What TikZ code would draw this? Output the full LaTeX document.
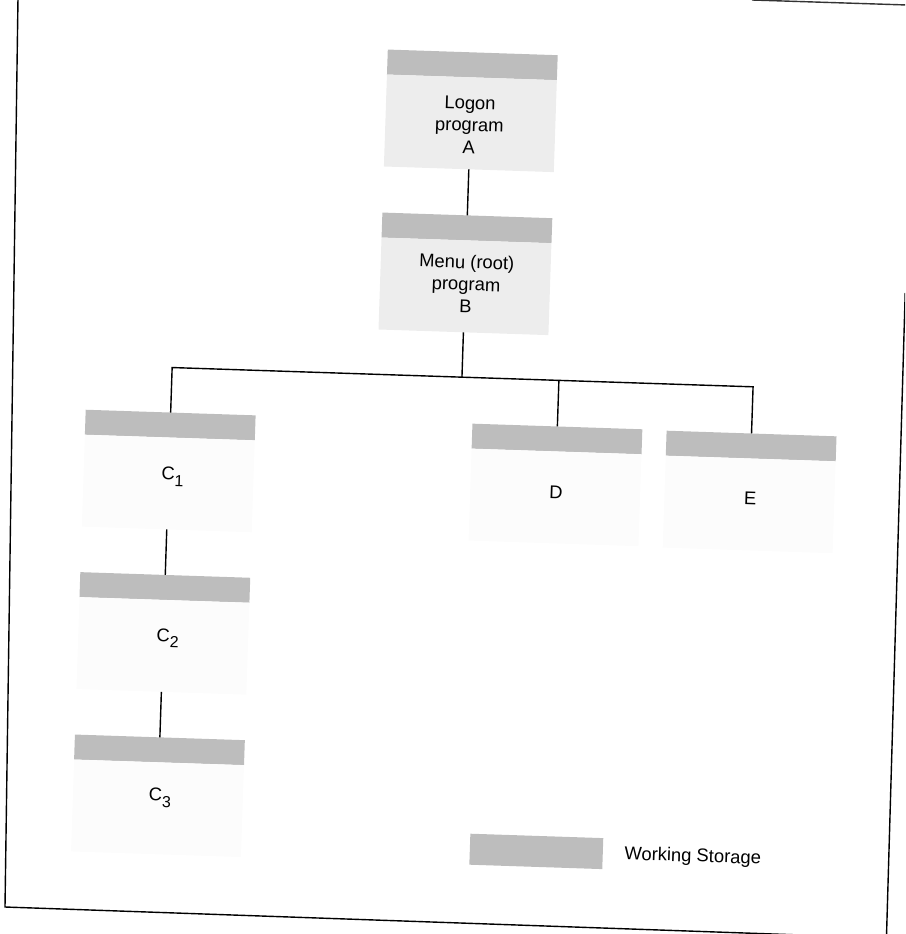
\documentclass[tikz,border=0pt]{standalone}
\usepackage{fontspec}
\setmainfont{Liberation Sans}
\begin{document}
\begin{tikzpicture}[x=1pt,y=-1pt,
  ws/.style={fill=black!26, minimum width=170pt, minimum height=25pt, inner sep=0pt, outer sep=0pt},
  bodyAB/.style={fill=black!7, minimum width=170pt, minimum height=92pt, inner sep=0pt, outer sep=0pt, anchor=north},
  bodyC/.style={fill=black!1.2, minimum width=170pt, minimum height=92pt, inner sep=0pt, outer sep=0pt, anchor=north},
  txt/.style={font=\fontsize{18.4}{22}\selectfont, align=center, inner sep=0pt},
  link/.style={line width=1.4pt},
  frame/.style={line width=1.4pt}]
\useasboundingbox (0,0) rectangle (905,934);
\begin{scope}
  \clip (0,0) rectangle (905,934);
  \draw[frame] (18,-2) -- (5,907) -- (830,936);
  \draw[frame] (905.2,293) -- (886.5,936);
  \draw[frame, black!80] (752,0) -- (907,5);
\end{scope}
\newcommand{\subnum}[1]{\raisebox{-0.6ex}{\fontsize{16}{16}\selectfont #1}}
\begin{scope}[rotate around={-1.9:(455,467)}, transform shape]
  % program A
  \node[ws] (wsA) at (459,64.5) {};
  \node[bodyAB] (A) at (wsA.south) {};
  \node[txt] (At) at (458,124.6) {Logon\\program\\A};
  % program B
  \node[ws] (wsB) at (459,227.6) {};
  \node[bodyAB] (B) at (wsB.south) {};
  \node[txt] (Bt) at (460,283.5) {Menu (root)\\program\\B};
  % C1, C2, C3
  \node[ws] (wsC1) at (169,434.5) {};
  \node[bodyC] (C1) at (wsC1.south) {};
  \node[txt] (C1t) at (173,486) {C\subnum{1}};
  \node[ws] (wsC2) at (169,597) {};
  \node[bodyC] (C2) at (wsC2.south) {};
  \node[txt] (C2t) at (173.5,647.5) {C\subnum{2}};
  \node[ws] (wsC3) at (169,759.5) {};
  \node[bodyC] (C3) at (wsC3.south) {};
  \node[txt] (C3t) at (171,807.5) {C\subnum{3}};
  % D, E
  \node[ws] (wsD) at (556,435.6) {};
  \node[bodyC] (D) at (wsD.south) {};
  \node[txt] (Dt) at (556.8,488.7) {D};
  \node[ws] (wsE) at (750.3,436.2) {};
  \node[bodyC] (E) at (wsE.south) {};
  \node[txt] (Et) at (751,488.3) {E};
  % legend
  \node[ws, minimum width=133pt, minimum height=31pt] (leg) at (549,848.5) {};
  \node[txt, anchor=west] (legt) at (637,849) {Working Storage};
  % connectors
  \coordinate (jB) at (459,377);
  \coordinate (jE) at (750.3,377);
  \draw[link] (A.south) -- (wsB.north);
  \draw[link] (B.south) -- (jB);
  \draw[link] (wsC1.north) |- (jE) -- (wsE.north);
  \draw[link] (wsD.north) -- (wsD.north |- jB);
  \draw[link] (C1.south) -- (wsC2.north);
  \draw[link] (C2.south) -- (wsC3.north);
\end{scope}
\end{tikzpicture}
\end{document}
